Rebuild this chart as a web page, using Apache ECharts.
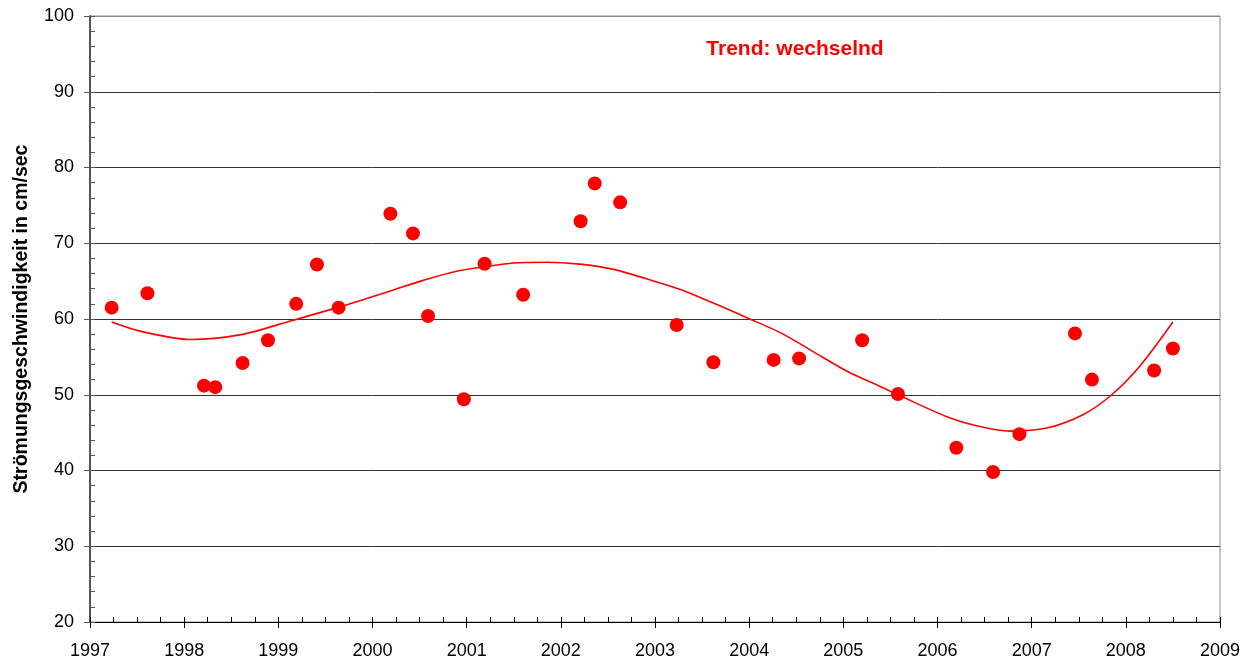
<!DOCTYPE html>
<html>
<head>
<meta charset="utf-8">
<script src="https://cdn.jsdelivr.net/npm/echarts@6/dist/echarts.min.js"></script>
<style>
html,body{margin:0;padding:0;background:#fff;}
#chart{width:1257px;height:663px;}
</style>
</head>
<body>
<div id="chart"></div>
<script>
// Measurement dates (decimal years) and flow speeds (cm/sec)
var dates = [1997.23, 1997.61, 1998.21, 1998.33, 1998.62, 1998.89, 1999.19, 1999.41, 1999.64,
             2000.19, 2000.43, 2000.59, 2000.97, 2001.19, 2001.60, 2002.21, 2002.36, 2002.63,
             2003.23, 2003.62, 2004.26, 2004.53, 2005.20, 2005.58, 2006.20, 2006.59, 2006.87,
             2007.46, 2007.64, 2008.30, 2008.50];
var speeds = [61.5, 63.4, 51.2, 51.0, 54.2, 57.2, 62.0, 67.2, 61.5,
              73.9, 71.3, 60.4, 49.4, 67.3, 63.2, 72.9, 77.9, 75.4,
              59.2, 54.3, 54.6, 54.8, 57.2, 50.1, 43.0, 39.8, 44.8,
              58.1, 52.0, 53.2, 56.1];
// Trend curve
var trendX = [1997.23, 1997.53, 1998.06, 1998.59, 1999.12, 1999.65, 2000.19, 2000.54, 2000.89,
              2001.19, 2001.50, 2001.85, 2002.20, 2002.56, 2002.91, 2003.27, 2003.62, 2003.97,
              2004.33, 2004.68, 2005.04, 2005.39, 2005.58, 2006.10, 2006.45, 2006.77, 2007.16,
              2007.55, 2007.85, 2008.15, 2008.50];
var trendY = [59.6, 58.4, 57.3, 57.9, 59.7, 61.6, 63.7, 65.1, 66.3,
              66.9, 67.4, 67.5, 67.25, 66.55, 65.3, 63.9, 62.1, 60.2,
              58.2, 55.7, 53.1, 51.1, 50.0, 47.1, 45.8, 45.2, 45.6,
              47.4, 50.0, 53.8, 59.6];
var yearTicks = [1997, 1998, 1999, 2000, 2001, 2002, 2003, 2004, 2005, 2006, 2007, 2008, 2009];
var speedTicks = [20, 30, 40, 50, 60, 70, 80, 90, 100];
var yName = 'Strömungsgeschwindigkeit in cm/sec';
var trendLabel = 'Trend: wechselnd';

var FONT = 'Liberation Sans, Arial, sans-serif';
var scatterData = dates.map(function(d, i){ return [d, speeds[i]]; });
var trendData = trendX.map(function(d, i){ return [d, trendY[i]]; });

var chart = echarts.init(document.getElementById('chart'), null, {renderer: 'canvas'});
chart.setOption({
  animation: false,
  backgroundColor: '#fff',
  grid: {left: 90, right: 37, top: 16, bottom: 41, show: true, borderColor: '#888', borderWidth: 1, backgroundColor: 'transparent'},
  xAxis: [{
    type: 'value', min: yearTicks[0], max: yearTicks[yearTicks.length - 1], interval: 1,
    position: 'bottom',
    axisLine: {show: true, onZero: false, lineStyle: {color: '#000', width: 1}},
    axisTick: {show: true, inside: false, length: 6, lineStyle: {color: '#000', width: 1}},
    axisLabel: {fontFamily: FONT, fontSize: 18, color: '#000', margin: 20, formatter: function(v){ return String(v); }},
    splitLine: {show: false}
  }, {
    type: 'value', min: yearTicks[0], max: yearTicks[yearTicks.length - 1], interval: 0.25,
    position: 'bottom',
    axisLine: {show: false},
    axisTick: {show: true, inside: true, length: 5, lineStyle: {color: '#000', width: 1}},
    axisLabel: {show: false},
    splitLine: {show: false}
  }],
  yAxis: [{
    type: 'value', min: speedTicks[0], max: speedTicks[speedTicks.length - 1], interval: 10,
    position: 'left', name: yName, nameLocation: 'middle', nameGap: 58, nameRotate: 90,
    nameTextStyle: {fontFamily: FONT, fontSize: 19.5, fontWeight: 'bold', color: '#000'},
    axisLine: {show: true, onZero: false, lineStyle: {color: '#555', width: 2}},
    axisTick: {show: true, inside: false, length: 6, lineStyle: {color: '#555', width: 1}},
    axisLabel: {fontFamily: FONT, fontSize: 18, color: '#000', margin: 16},
    splitLine: {show: true, lineStyle: {color: ['#333','#333','#333','#333','#333','#333','#333','#333','#888'], width: 1}}
  }, {
    type: 'value', min: speedTicks[0], max: speedTicks[speedTicks.length - 1], interval: 2,
    position: 'left',
    axisLine: {show: false},
    axisTick: {show: true, inside: true, length: 5, lineStyle: {color: '#555', width: 1}},
    axisLabel: {show: false},
    splitLine: {show: false}
  }],
  graphic: [{
    type: 'text', x: 795, y: 49,
    style: {text: trendLabel, fill: '#ff0000', font: 'bold 21px ' + FONT, textAlign: 'center', textVerticalAlign: 'middle'}
  }],
  series: [{
    type: 'line', data: trendData, smooth: 0.3, showSymbol: false, symbol: 'none',
    lineStyle: {color: '#ff0000', width: 1.6}, z: 2, silent: true
  }, {
    type: 'scatter', data: scatterData, symbol: 'circle', symbolSize: 14,
    itemStyle: {color: '#ff0000', opacity: 1}, z: 3, silent: true
  }]
});
</script>
</body>
</html>
